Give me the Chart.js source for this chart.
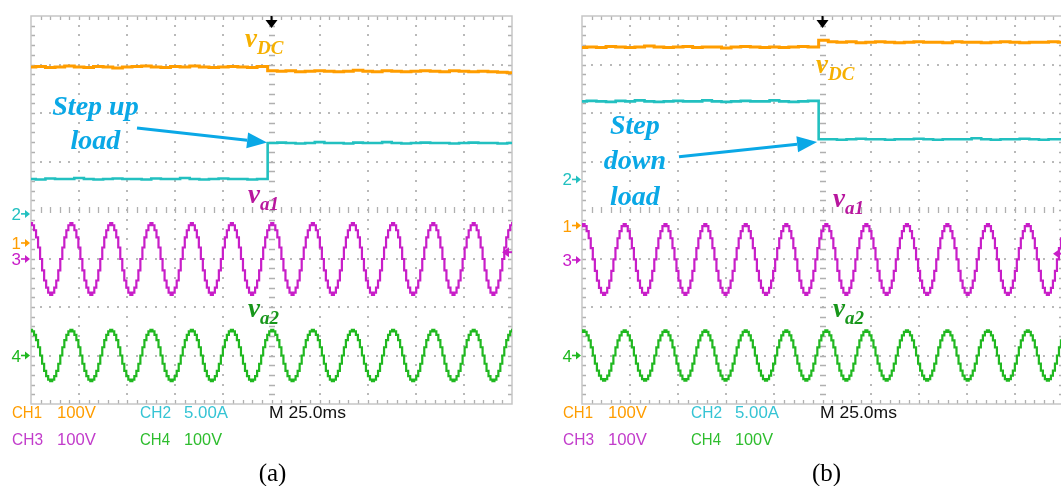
<!DOCTYPE html>
<html>
<head>
<meta charset="utf-8">
<script src="https://cdn.jsdelivr.net/npm/chart.js@4.4.0/dist/chart.umd.min.js"></script>
<style>
  html, body { margin: 0; padding: 0; background: #fff; width: 1061px; height: 486px; overflow: hidden; }
  .panel { position: absolute; top: 0; height: 486px; }
  #panelA { left: 0; width: 530px; }
  #panelB { left: 530px; width: 540px; }
</style>
</head>
<body>
<div class="panel" id="panelA"><canvas id="scopeA" width="530" height="486"></canvas></div>
<div class="panel" id="panelB"><canvas id="scopeB" width="540" height="486"></canvas></div>
<script>
// Time base: 10 divisions x 25 ms; vertical: 8 divisions (-4 .. +4 div)
const timeWindow = [0, 250];
const divWindow = [-4, 4];

// Sample times of the DC-link voltage and load current records (ms)
const dcTimes = [0,5,10,15,20,25,30,35,40,45,50,55,60,65,70,75,80,85,90,95,100,105,110,115,120,
                 126,130,135,140,145,150,155,160,165,170,175,180,185,190,195,200,205,210,215,220,225,230,235,240,245,250];

// (a) step up load: vDC (CH1) and load current (CH2), in divisions
const vdcA = [2.95,2.96,2.94,2.95,2.97,2.95,2.94,2.96,2.95,2.93,2.95,2.96,2.97,2.95,2.94,2.96,2.95,2.97,2.95,2.94,2.95,2.96,2.95,2.94,2.96,
              2.87,2.86,2.87,2.85,2.86,2.87,2.86,2.85,2.86,2.88,2.86,2.85,2.87,2.86,2.85,2.86,2.87,2.86,2.85,2.87,2.86,2.85,2.86,2.85,2.84,2.83];
const iLoadA = [0.64,0.63,0.65,0.64,0.64,0.66,0.64,0.63,0.64,0.65,0.64,0.64,0.63,0.65,0.64,0.64,0.66,0.64,0.63,0.64,0.65,0.64,0.64,0.63,0.64,
                1.38,1.39,1.38,1.37,1.38,1.40,1.38,1.38,1.37,1.39,1.38,1.38,1.40,1.38,1.37,1.38,1.39,1.38,1.38,1.37,1.38,1.39,1.38,1.38,1.37,1.38];

// (b) step down load
const vdcB = [3.35,3.36,3.35,3.37,3.36,3.35,3.36,3.38,3.36,3.35,3.36,3.37,3.35,3.36,3.36,3.34,3.36,3.37,3.36,3.35,3.36,3.35,3.36,3.37,3.36,
              3.50,3.47,3.46,3.47,3.45,3.46,3.47,3.46,3.45,3.46,3.47,3.46,3.46,3.45,3.47,3.46,3.46,3.45,3.46,3.47,3.46,3.45,3.46,3.46,3.47,3.46];
const iLoadB = [2.24,2.25,2.24,2.23,2.25,2.24,2.26,2.24,2.23,2.24,2.25,2.24,2.24,2.26,2.24,2.23,2.24,2.25,2.24,2.24,2.26,2.24,2.23,2.24,2.25,
                1.46,1.46,1.45,1.46,1.47,1.46,1.46,1.45,1.46,1.46,1.47,1.46,1.45,1.46,1.46,1.46,1.48,1.46,1.45,1.46,1.46,1.47,1.46,1.45,1.46,1.46];

// Inverter output voltages: one staircase cycle (normalised, starting at the positive peak)
const stairCycle = [1, 0.94, 0.8, 0.6, 0.32, 0, -0.32, -0.6, -0.8, -0.94, -1, -0.94, -0.8, -0.6, -0.32, 0, 0.32, 0.6, 0.8, 0.94];
// Positive-peak instants (ms) of va1 / va2
const peaksA = [0, 21.0, 41.7, 62.6, 83.6, 104.4, 125.4, 146.5, 167.3, 188.2, 209.1, 230.1, 250.6];
const peaksB = [-20.0, 0.8, 22.2, 43.4, 64.1, 85.1, 106.2, 127.0, 147.8, 168.9, 189.9, 211.0, 231.7, 252.6];
// Offsets and amplitudes (div), panels (a) and (b)
const va1Offset = [-1.01, -1.02];
const va1Amplitude = [0.74, 0.73];
const va2Offset = [-3.0, -3.0];
const va2Amplitude = [0.53, 0.52];

// Channel ground markers CH1..CH4 (div) and trigger level (div)
const groundA = [-0.68, -0.08, -1.01, -3.0];
const groundB = [-0.32, 0.63, -1.03, -3.0];
const trigLevel = [-0.87, -0.90];

// Readout rows under the graticule
const readoutRow1 = ['CH1', '100V', 'CH2', '5.00A', 'M 25.0ms'];
const readoutRow2 = ['CH3', '100V', 'CH4', '100V'];

const COL = { ch1: '#ff9d00', ch2: '#22c0c0', ch3: '#c81ec8', ch4: '#20b820' };

function stairTrace(peaks, offset, amp) {
  const pts = [];
  for (let i = 0; i < peaks.length - 1; i++) {
    const t0 = peaks[i], T = peaks[i + 1] - t0;
    stairCycle.forEach((lv, k) => pts.push({ x: t0 + k * T / stairCycle.length, y: offset + amp * lv }));
  }
  pts.push({ x: peaks[peaks.length - 1], y: offset + amp });
  return pts;
}
function dcTrace(vals) { return dcTimes.map((t, i) => ({ x: t, y: vals[i] })); }

// Oscilloscope graticule: border, dotted divisions, ticked centre lines
const graticule = {
  id: 'graticule',
  beforeDatasetsDraw(chart) {
    const { ctx, chartArea: a, scales: { x, y } } = chart;
    ctx.save();
    ctx.fillStyle = '#b9b9b9';
    for (let d = 1; d < 10; d++) {
      if (d === 5) continue;
      const px = Math.round(x.getPixelForValue(d * 25));
      for (let m = 1; m < 40; m++) {
        const py = Math.round(y.getPixelForValue(-4 + m * 0.2));
        ctx.fillRect(px - 1, py - 1, 2, 2);
      }
    }
    for (let d = -3; d <= 3; d++) {
      if (d === 0) continue;
      const py = Math.round(y.getPixelForValue(d));
      for (let m = 1; m < 50; m++) {
        const px = Math.round(x.getPixelForValue(m * 5));
        ctx.fillRect(px - 1, py - 1, 2, 2);
      }
    }
    ctx.strokeStyle = '#b0b0b0';
    ctx.lineWidth = 1.3;
    ctx.beginPath();
    const cx = Math.round(x.getPixelForValue(125)), cy = Math.round(y.getPixelForValue(0));
    for (let m = 1; m < 40; m++) {
      const py = Math.round(y.getPixelForValue(-4 + m * 0.2)) + 0.5;
      ctx.moveTo(cx - 3, py); ctx.lineTo(cx + 3, py);
      ctx.moveTo(a.left, py); ctx.lineTo(a.left + 4, py);
      ctx.moveTo(a.right - 4, py); ctx.lineTo(a.right, py);
    }
    for (let m = 1; m < 50; m++) {
      const px = Math.round(x.getPixelForValue(m * 5)) + 0.5;
      ctx.moveTo(px, cy - 3); ctx.lineTo(px, cy + 3);
      ctx.moveTo(px, a.top); ctx.lineTo(px, a.top + 4);
      ctx.moveTo(px, a.bottom - 4); ctx.lineTo(px, a.bottom);
    }
    ctx.stroke();
    ctx.strokeStyle = '#c6c6c6';
    ctx.lineWidth = 1.5;
    ctx.strokeRect(a.left, a.top, a.right - a.left, a.bottom - a.top);
    ctx.restore();
  }
};

// Scope markers, readouts, waveform names and captions
const scopeMarks = {
  id: 'scopeMarks',
  afterDatasetsDraw(chart, args, o) {
    const { ctx, chartArea: a, scales: { x, y } } = chart;
    ctx.save();
    ctx.textBaseline = 'alphabetic';

    // trigger position arrow
    const cx = x.getPixelForValue(125);
    ctx.fillStyle = '#000';
    ctx.fillRect(cx - 1, a.top, 2, 6);
    ctx.beginPath();
    ctx.moveTo(cx - 6, a.top + 4); ctx.lineTo(cx + 6, a.top + 4); ctx.lineTo(cx, a.top + 12);
    ctx.closePath(); ctx.fill();

    // trigger level marker on the right edge
    const ty = y.getPixelForValue(o.trig);
    ctx.fillStyle = COL.ch3; ctx.strokeStyle = COL.ch3; ctx.lineWidth = 2;
    ctx.beginPath(); ctx.moveTo(a.right - 10, ty); ctx.lineTo(a.right - 3, ty - 5); ctx.lineTo(a.right - 3, ty + 5); ctx.closePath(); ctx.fill();
    ctx.beginPath(); ctx.moveTo(a.right - 4, ty); ctx.lineTo(a.right, ty); ctx.stroke();

    // channel ground markers
    const chCols = [COL.ch1, COL.ch2, COL.ch3, COL.ch4];
    ctx.font = '17px "Liberation Sans", Arial, sans-serif';
    ctx.textAlign = 'right';
    o.ground.forEach((lv, i) => {
      const py = y.getPixelForValue(lv);
      ctx.fillStyle = chCols[i]; ctx.strokeStyle = chCols[i]; ctx.lineWidth = 1.6;
      ctx.fillText(String(i + 1), a.left - 10, py + 6);
      ctx.beginPath(); ctx.moveTo(a.left - 10, py); ctx.lineTo(a.left - 4, py); ctx.stroke();
      ctx.beginPath(); ctx.moveTo(a.left - 1, py); ctx.lineTo(a.left - 6, py - 4); ctx.lineTo(a.left - 6, py + 4); ctx.closePath(); ctx.fill();
    });

    // readouts
    ctx.textAlign = 'left';
    ctx.font = '17px "Liberation Sans", Arial, sans-serif';
    const cols1 = [COL.ch1, COL.ch1, '#35c4d4', '#35c4d4', '#111'];
    const cols2 = ['#c23ccb', '#c23ccb', '#2ebd2e', '#2ebd2e'];
    const dx = [-19, 26, 109, 153, 238];
    const w1 = [30, 39, 31, 44, 77];
    const w2 = [31, 39, 30, 38];
    const drawFit = (txt, px, py, w, col) => {
      const m = ctx.measureText(txt).width;
      ctx.save(); ctx.translate(px, py); ctx.scale(w / m, 1);
      ctx.fillStyle = col; ctx.fillText(txt, 0, 0); ctx.restore();
    };
    readoutRow1.forEach((t, i) => drawFit(t, a.left + dx[i], a.bottom + 14, w1[i], cols1[i]));
    readoutRow2.forEach((t, i) => drawFit(t, a.left + dx[i], a.bottom + 41, w2[i], cols2[i]));

    // waveform names
    o.names.forEach(n => {
      const px = x.getPixelForValue(n.t), py = y.getPixelForValue(n.v);
      ctx.fillStyle = n.color;
      ctx.font = 'italic bold 27px "Liberation Serif", "Times New Roman", serif';
      ctx.fillText(n.main, px, py);
      const w = ctx.measureText(n.main).width;
      ctx.font = 'italic bold 19px "Liberation Serif", "Times New Roman", serif';
      ctx.fillText(n.sub, px + w, py + 7);
    });

    // load step note and arrow
    ctx.fillStyle = '#0aa8e6'; ctx.strokeStyle = '#0aa8e6';
    ctx.font = 'italic bold 28px "Liberation Serif", "Times New Roman", serif';
    ctx.textAlign = 'center';
    o.note.lines.forEach((line, i) => {
      ctx.fillText(line, x.getPixelForValue(o.note.t), y.getPixelForValue(o.note.v[i]));
    });
    const x0 = x.getPixelForValue(o.arrow.from[0]), y0 = y.getPixelForValue(o.arrow.from[1]);
    const x1 = x.getPixelForValue(o.arrow.to[0]), y1 = y.getPixelForValue(o.arrow.to[1]);
    const ang = Math.atan2(y1 - y0, x1 - x0), hl = 20, hw = 8;
    const bx = x1 - hl * Math.cos(ang), by = y1 - hl * Math.sin(ang);
    ctx.lineWidth = 3;
    ctx.beginPath(); ctx.moveTo(x0, y0); ctx.lineTo(bx, by); ctx.stroke();
    ctx.beginPath();
    ctx.moveTo(x1, y1);
    ctx.lineTo(bx + hw * Math.sin(ang), by - hw * Math.cos(ang));
    ctx.lineTo(bx - hw * Math.sin(ang), by + hw * Math.cos(ang));
    ctx.closePath(); ctx.fill();

    // caption
    ctx.fillStyle = '#000';
    ctx.font = '25px "Liberation Serif", "Times New Roman", serif';
    ctx.fillText(o.caption, cx + o.captionShift, a.bottom + 77);
    ctx.restore();
  }
};

function makeScope(id, p, pad, marks) {
  const vdc = p === 0 ? vdcA : vdcB;
  const iL = p === 0 ? iLoadA : iLoadB;
  const peaks = p === 0 ? peaksA : peaksB;
  const line = (label, data, color, width) => ({
    label, data, borderColor: color, borderWidth: width, pointRadius: 0,
    stepped: 'middle', fill: false, clip: 0
  });
  return new Chart(document.getElementById(id), {
    type: 'line',
    data: {
      datasets: [
        line('CH3 va1', stairTrace(peaks, va1Offset[p], va1Amplitude[p]), COL.ch3, 2.2),
        line('CH4 va2', stairTrace(peaks, va2Offset[p], va2Amplitude[p]), COL.ch4, 2.2),
        line('CH2 iload', dcTrace(iL), COL.ch2, 2.6),
        line('CH1 vDC', dcTrace(vdc), COL.ch1, 3)
      ]
    },
    options: {
      responsive: false,
      animation: false,
      parsing: false,
      layout: { padding: pad },
      scales: {
        x: { type: 'linear', min: timeWindow[0], max: timeWindow[1], display: false },
        y: { type: 'linear', min: divWindow[0], max: divWindow[1], display: false }
      },
      plugins: { legend: { display: false }, tooltip: { enabled: false }, scopeMarks: marks }
    },
    plugins: [graticule, scopeMarks]
  });
}

makeScope('scopeA', 0, { left: 31, right: 18, top: 16, bottom: 82 }, {
  caption: '(a)', captionShift: 1, ground: groundA, trig: trigLevel[0],
  names: [
    { main: 'v', sub: 'DC', t: 111.2, v: 3.36, color: '#f6b000' },
    { main: 'v', sub: 'a1', t: 112.8, v: 0.14, color: '#b8169e' },
    { main: 'v', sub: 'a2', t: 112.8, v: -2.2, color: '#17961a' }
  ],
  note: { lines: ['Step up', 'load'], t: 33.5, v: [1.96, 1.26] },
  arrow: { from: [55.1, 1.69], to: [122.7, 1.39] }
});

makeScope('scopeB', 1, { left: 52, right: 7, top: 16, bottom: 82 }, {
  caption: '(b)', captionShift: 4, ground: groundB, trig: trigLevel[1],
  names: [
    { main: 'v', sub: 'DC', t: 121.6, v: 2.82, color: '#f6b000' },
    { main: 'v', sub: 'a1', t: 130.5, v: 0.06, color: '#b8169e' },
    { main: 'v', sub: 'a2', t: 130.5, v: -2.21, color: '#17961a' }
  ],
  note: { lines: ['Step', 'down', 'load'], t: 27.5, v: [1.57, 0.84, 0.10] },
  arrow: { from: [50.4, 1.10], to: [122.2, 1.40] }
});
</script>
</body>
</html>
